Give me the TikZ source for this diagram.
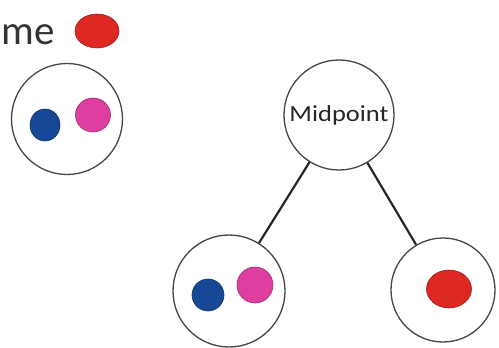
\documentclass[tikz,border=0pt]{standalone}
\usepackage{fontspec}
\setmainfont{Carlito}
\usetikzlibrary{shapes.geometric}
\definecolor{dotblue}{RGB}{22,72,150}
\definecolor{dotpink}{RGB}{222,62,160}
\definecolor{dotred}{RGB}{222,40,36}
\definecolor{ringgray}{RGB}{70,70,70}
\tikzset{
  ring/.style={circle, draw=ringgray, line width=1.3pt, inner sep=0pt},
  dot/.style={ellipse, inner sep=0pt, draw=#1!70!black, line width=0.6pt, fill=#1},
  link/.style={draw=black!85, line width=2.2pt},
}
\begin{document}
\begin{tikzpicture}[x=1pt, y=-1pt]
\useasboundingbox (0,0) rectangle (499,348);
\fill[white] (0,0) rectangle (499,348);
% title fragment
\node[anchor=base west, inner sep=0pt, font=\fontsize{41}{41}\selectfont, text=black!80] (me) at (1.5,44) {me};
\node[dot=dotred, minimum width=44pt, minimum height=34pt] (topred) at (97,31) {};
% top-left ring
\node[ring, minimum size=111pt] (tl) at (67,119) {};
\node[dot=dotblue, minimum width=30pt, minimum height=32pt] (tlb) at (45,125) {};
\node[dot=dotpink, minimum width=35pt, minimum height=34pt] (tlp) at (93,115) {};
% midpoint
\node[ring, minimum size=110pt, font=\fontsize{23}{23}\selectfont, text=black!85] (mid) at (339,115) {\scalebox{1.15}[1]{Midpoint}};
% bottom-left ring
\node[ring, minimum size=112pt] (bl) at (229,291) {};
\node[dot=dotblue, minimum width=32pt, minimum height=32pt] (blb) at (208,295) {};
\node[dot=dotpink, minimum width=36pt, minimum height=36pt] (blp) at (255,285) {};
% bottom-right ring
\node[ring, minimum size=104pt] (br) at (443,290) {};
\node[dot=dotred, minimum width=45pt, minimum height=38pt] (brr) at (449,289) {};
% links
\draw[link] (mid) -- (bl);
\draw[link] (mid) -- (br);
\end{tikzpicture}
\end{document}
